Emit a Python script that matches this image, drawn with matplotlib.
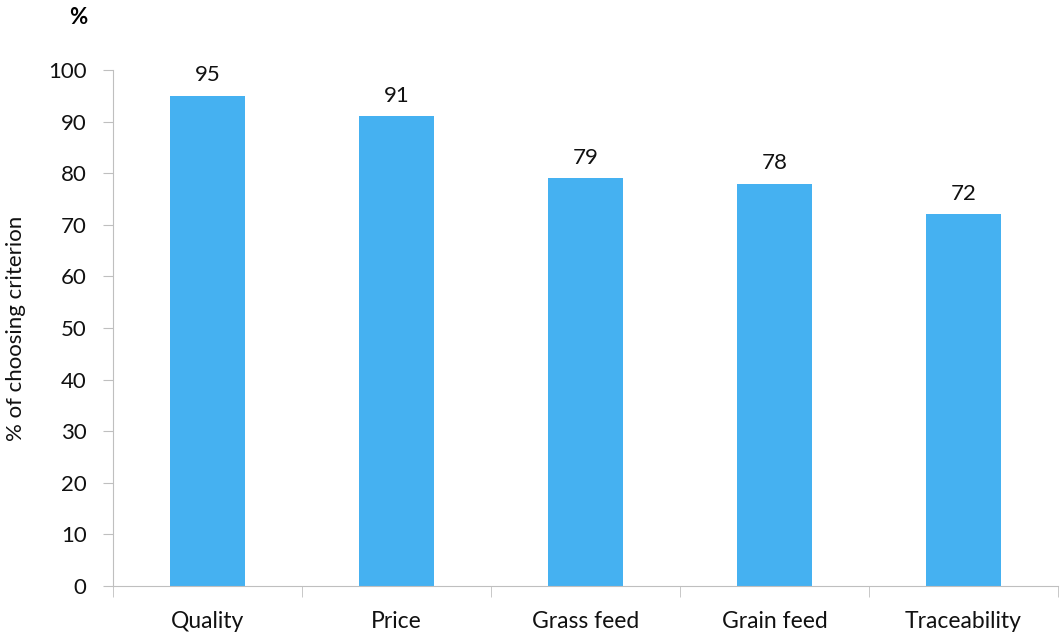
import matplotlib.pyplot as plt
import numpy as np

categories = ['Quality', 'Price', 'Grass feed', 'Grain feed', 'Traceability']
values = [95, 91, 79, 78, 72]

plt.rcParams['font.family'] = ['Lato', 'DejaVu Sans']

fig = plt.figure(figsize=(10.6, 6.34), dpi=100)
ax = fig.add_axes([0.1066, 0.0757, 0.8915, 0.8139])

x = np.arange(len(categories))
ax.bar(x, values, width=0.40, color='#45B1F1')
for xi, v in zip(x, values):
    ax.text(xi, v + 2, str(v), ha='center', va='bottom', fontsize=16, color='#111111')

ax.set_xlim(-0.5, len(categories) - 0.5)
ax.set_ylim(0, 100)
ax.set_yticks(range(0, 101, 10))
ax.tick_params(axis='y', labelsize=16, length=7, color='#BFBFBF', pad=12, labelcolor='#111111')

# category labels centered, separator ticks at boundaries
ax.set_xticks(x)
ax.set_xticklabels(categories, fontsize=16.5, color='#111111')
ax.tick_params(axis='x', length=0, pad=18)
ax.set_xticks(np.arange(-0.5, len(categories)), minor=True)
ax.tick_params(axis='x', which='minor', length=8, color='#BFBFBF')

for s in ['top', 'right']:
    ax.spines[s].set_visible(False)
for s in ['left', 'bottom']:
    ax.spines[s].set_color('#BFBFBF')

ax.set_ylabel('% of choosing criterion', fontsize=16, color='#111111')
ax.yaxis.set_label_coords(-0.092, 0.5)
fig.text(0.074, 0.972, '%', fontsize=16, fontweight='bold', ha='center', va='center')

fig.savefig('out.png', dpi=100)
